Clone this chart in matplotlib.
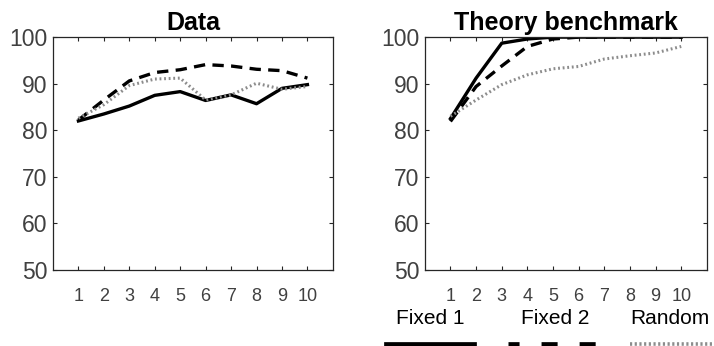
import matplotlib
matplotlib.use("Agg")
import matplotlib.pyplot as plt
from matplotlib.lines import Line2D

plt.rcParams['font.family'] = ['Liberation Sans', 'DejaVu Sans']

x = [1, 2, 3, 4, 5, 6, 7, 8, 9, 10]
series_names = ["Fixed 1", "Fixed 2", "Random"]

data_fixed1 = [82.0, 83.5, 85.2, 87.5, 88.3, 86.4, 87.6, 85.7, 89.0, 89.8]
data_fixed2 = [82.2, 86.5, 90.6, 92.4, 93.0, 94.1, 93.8, 93.1, 92.8, 91.2]
data_random = [82.6, 85.5, 89.6, 91.0, 91.2, 86.5, 87.6, 90.1, 88.8, 89.4]

theory_fixed1 = [82.5, 91.2, 98.7, 99.6, 100, 100, 100, 100, 100, 100]
theory_fixed2 = [81.9, 89.4, 93.8, 98.0, 99.6, 100, 100, 100, 100, 100]
theory_random = [83.0, 86.5, 89.8, 91.9, 93.2, 93.7, 95.3, 96.0, 96.6, 98.0]

titles = ["Data", "Theory benchmark"]
yticks = [50, 60, 70, 80, 90, 100]

styles = [
    dict(color='black', lw=2.4, ls='-'),
    dict(color='black', lw=2.4, ls=(0, (3.4, 2.2))),
    dict(color='#8c8c8c', lw=2.2, ls=(0, (0.6, 0.9))),
]
legend_styles = [
    dict(color='black', lw=3.4, ls='-'),
    dict(color='black', lw=3.4, ls=(1.06, (3.4, 4.66))),
    dict(color='#8c8c8c', lw=2.6, ls=(0, (0.6, 0.7))),
]

fig = plt.figure(figsize=(7.14, 3.46), dpi=100)
ax1 = fig.add_axes([0.0742, 0.2197, 0.392, 0.673])
ax2 = fig.add_axes([0.595, 0.2197, 0.395, 0.673])

for ax, title, ys in [(ax1, titles[0], [data_fixed1, data_fixed2, data_random]),
                      (ax2, titles[1], [theory_fixed1, theory_fixed2, theory_random])]:
    for y, st in zip(ys, styles):
        ax.plot(x, y, **st)
    ax.set_xlim(0, 11)
    ax.set_ylim(50, 100)
    ax.set_xticks(x)
    ax.set_yticks(yticks)
    ax.set_title(title, fontsize=18, fontweight='bold', pad=5)
    ax.tick_params(axis='both', direction='in', top=True, right=True,
                   length=3, width=0.8, colors='#262626', labelcolor='#404040')
    ax.tick_params(axis='x', labelsize=13, pad=13)
    ax.tick_params(axis='y', labelsize=16.5, pad=4)
    for sp in ax.spines.values():
        sp.set_color('#262626')
        sp.set_linewidth(0.9)

# legend below right panel
W, H = 714, 346
leg = [("Fixed 1", 430, 386, 474), ("Fixed 2", 555, 508, 596), ("Random", 670, 630, 714)]
for (name, tx, lx0, lx1), st in zip(leg, legend_styles):
    fig.text(tx / W, 1 - 318 / H, name, ha='center', va='center', fontsize=15, color='black')
    fig.add_artist(Line2D([lx0 / W, lx1 / W], [1 - 344 / H, 1 - 344 / H],
                          transform=fig.transFigure, **st))

fig.savefig("out.png", dpi=100)
